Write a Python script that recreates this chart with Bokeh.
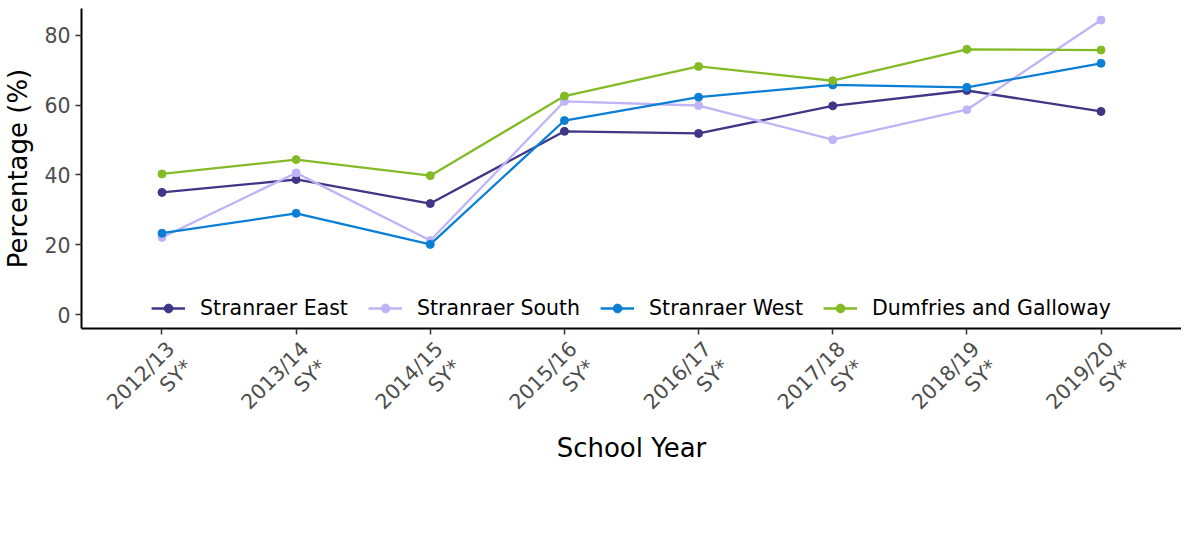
import math
from bokeh.plotting import figure
from bokeh.models import Range1d, FixedTicker, Legend, LegendItem
from bokeh.embed import file_html
from bokeh.resources import INLINE

years = ["2012/13", "2013/14", "2014/15", "2015/16", "2016/17", "2017/18", "2018/19", "2019/20"]
tick_labels = [y + "\nSY*" for y in years]

stranraer_east = [35.0, 38.7, 31.8, 52.5, 51.9, 59.8, 64.2, 58.2]
stranraer_south = [22.1, 40.6, 21.2, 61.1, 59.9, 50.1, 58.7, 84.4]
stranraer_west = [23.3, 29.0, 20.1, 55.6, 62.3, 65.8, 65.1, 72.0]
dumfries_galloway = [40.3, 44.4, 39.8, 62.6, 71.1, 67.0, 76.0, 75.8]

series_names = ["Stranraer East", "Stranraer South", "Stranraer West", "Dumfries and Galloway"]
series_values = [stranraer_east, stranraer_south, stranraer_west, dumfries_galloway]
colors = ["#3F3685", "#BEB4F6", "#0B7FD6", "#83BB26"]

FONT = "DejaVu Sans"
TICK_SIZE = "20.5px"
TITLE_SIZE = "26px"

x = list(range(1, len(years) + 1))
y_start, y_end = -4.0, 87.7

p = figure(frame_width=1100, frame_height=320,
           x_range=Range1d(0.4, 8.6), y_range=Range1d(y_start, y_end),
           output_backend="svg", toolbar_location=None,
           min_border_left=73, min_border_right=0, min_border_top=8, min_border_bottom=0)

p.outline_line_color = None
p.xgrid.visible = False
p.ygrid.visible = False
p.background_fill_color = "white"

items = []
for name, vals, col in zip(series_names, series_values, colors):
    r1 = p.line(x, vals, line_color=col, line_width=2.3)
    r2 = p.scatter(x, vals, size=8, fill_color=col, line_color=col)
    items.append(LegendItem(label=name, renderers=[r1, r2]))

# axes
p.xaxis.ticker = FixedTicker(ticks=x)
# leading blank lines move the anchor of the rotated block towards the top-right of the text
p.xaxis.major_label_overrides = {xi: "\n\n" + lab for xi, lab in zip(x, tick_labels)}
p.xaxis.major_label_orientation = math.pi / 4
p.yaxis.ticker = FixedTicker(ticks=[0, 20, 40, 60, 80])

for ax in (p.xaxis, p.yaxis):
    ax.axis_line_color = "black"
    ax.axis_line_width = 2
    ax.major_tick_line_color = "#333333"
    ax.major_tick_line_width = 1.5
    ax.major_tick_in = 0
    ax.major_tick_out = 6
    ax.minor_tick_line_color = None
    ax.major_label_text_font = FONT
    ax.major_label_text_font_size = TICK_SIZE
    ax.major_label_text_color = "#4D4D4D"
    ax.axis_label_text_font = FONT
    ax.axis_label_text_font_size = TITLE_SIZE
    ax.axis_label_text_font_style = "normal"
    ax.axis_label_text_color = "black"

p.xaxis.major_label_text_line_height = 1.05
p.xaxis.major_label_standoff = 2
p.xaxis.axis_label = "School Year"
p.yaxis.axis_label = "Percentage (%)"
p.xaxis.axis_label_standoff = -37
p.yaxis.axis_label_standoff = 8
p.yaxis.major_label_standoff = 5

# legend kept inside the (empty) lower part of the plot area so that it is always visible
legend = Legend(items=items, orientation="horizontal", location="bottom_center",
                label_text_font=FONT, label_text_font_size=TICK_SIZE, label_text_color="black",
                glyph_width=34, glyph_height=22, label_standoff=15, spacing=20,
                border_line_color=None, background_fill_alpha=0, padding=0, margin=8)
p.add_layout(legend, "center")

open("out.html", "w").write(file_html(p, INLINE))
